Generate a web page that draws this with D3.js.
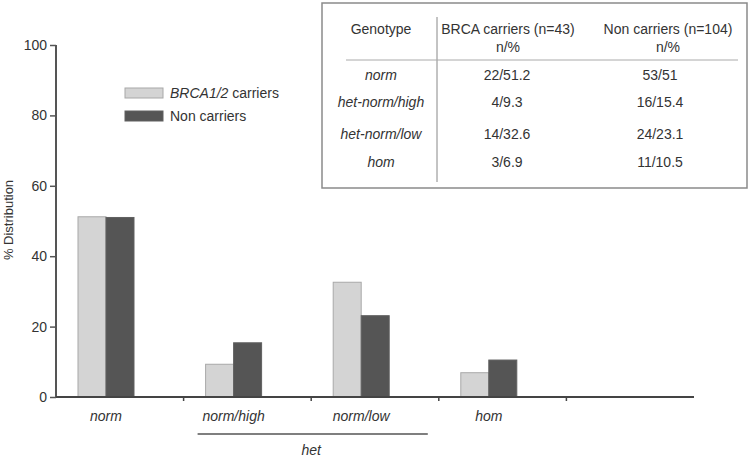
<!DOCTYPE html>
<html>
<head>
<meta charset="utf-8">
<script src="https://cdn.jsdelivr.net/npm/d3@7"></script>
<style>
  body { margin: 0; background: #fff; }
  svg text { font-family: "Liberation Sans", Arial, sans-serif; fill: #333; }
</style>
</head>
<body>
<div id="chart"></div>
<script>
// chart data
var categories = ["norm", "norm/high", "norm/low", "hom", ""];
var seriesNames = ["BRCA1/2 carriers", "Non carriers"];
var brcaValues = [51.2, 9.3, 32.6, 6.9];
var nonValues = [51, 15.4, 23.1, 10.5];
var yTicks = [0, 20, 40, 60, 80, 100];

// inset table
var tableHeaders = ["Genotype", "BRCA carriers (n=43)", "Non carriers (n=104)"];
var genotypes = ["norm", "het-norm/high", "het-norm/low", "hom"];
var brcaCells = ["22/51.2", "4/9.3", "14/32.6", "3/6.9"];
var nonCells = ["53/51", "16/15.4", "24/23.1", "11/10.5"];

var width = 750, height = 459;

var svg = d3.select("#chart").append("svg")
    .attr("width", width)
    .attr("height", height);

var x = d3.scaleBand()
    .domain(categories)
    .range([56, 694]);

var y = d3.scaleLinear()
    .domain([0, 100])
    .range([397, 45]);

// two bars inside each category slot
var x1 = d3.scaleBand()
    .domain([0, 1])
    .range([22, 78]);

var colors = ["#d4d4d4", "#555555"];
var strokes = ["#a8a8a8", "#606060"];

// y axis
var yAxis = svg.append("g")
    .attr("transform", "translate(56,0)")
    .call(d3.axisLeft(y).tickValues(yTicks).tickSize(6).tickPadding(3));
yAxis.selectAll("text").style("font-size", "14px").attr("fill", "#333");
yAxis.selectAll("line").attr("stroke", "#555").attr("stroke-width", 1.5);
yAxis.select(".domain").attr("stroke", "#555").attr("stroke-width", 2).attr("d", "M0,45V397");

svg.append("text")
    .attr("transform", "translate(13,220) rotate(-90)")
    .attr("text-anchor", "middle")
    .style("font-size", "13px")
    .text("% Distribution");

// bars
var rows = categories.slice(0, 4).map(function (c, i) {
    return { cat: c, vals: [brcaValues[i], nonValues[i]] };
});

var groups = svg.selectAll(".grp")
    .data(rows)
    .enter().append("g")
    .attr("class", "grp")
    .attr("transform", function (d) { return "translate(" + x(d.cat) + ",0)"; });

groups.selectAll("rect")
    .data(function (d) { return d.vals; })
    .enter().append("rect")
    .attr("x", function (d, i) { return x1(i); })
    .attr("width", x1.bandwidth())
    .attr("y", function (d) { return y(d); })
    .attr("height", function (d) { return y(0) - y(d); })
    .attr("fill", function (d, i) { return colors[i]; })
    .attr("stroke", function (d, i) { return strokes[i]; })
    .attr("stroke-width", 1);

// x axis: ticks at slot boundaries
var xAxis = svg.append("g").attr("transform", "translate(0,397)");
xAxis.append("line")
    .attr("x1", 56).attr("x2", 694)
    .attr("stroke", "#444").attr("stroke-width", 2);
xAxis.selectAll(".tk")
    .data(categories.slice(1))
    .enter().append("line")
    .attr("x1", function (d) { return x(d); })
    .attr("x2", function (d) { return x(d); })
    .attr("y1", 0).attr("y2", 4)
    .attr("stroke", "#444").attr("stroke-width", 1.5);

// category labels, centred under the bar pair
xAxis.selectAll(".lbl")
    .data(categories.slice(0, 4))
    .enter().append("text")
    .attr("x", function (d) { return x(d) + 50; })
    .attr("y", 24)
    .attr("text-anchor", "middle")
    .style("font-size", "14px")
    .style("font-style", "italic")
    .text(function (d) { return d; });

// "het" bracket under norm/high and norm/low
svg.append("line")
    .attr("x1", x("norm/high") + 14).attr("x2", x("hom") - 11)
    .attr("y1", 434).attr("y2", 434)
    .attr("stroke", "#555").attr("stroke-width", 1.5);
svg.append("text")
    .attr("x", x("norm/low"))
    .attr("y", 455)
    .attr("text-anchor", "middle")
    .style("font-size", "14px")
    .style("font-style", "italic")
    .text("het");

// legend
var legend = svg.selectAll(".leg")
    .data(seriesNames)
    .enter().append("g")
    .attr("class", "leg")
    .attr("transform", function (d, i) { return "translate(125," + (88 + i * 23) + ")"; });
legend.append("rect")
    .attr("width", 38).attr("height", 10)
    .attr("fill", function (d, i) { return colors[i]; })
    .attr("stroke", function (d, i) { return strokes[i]; });
legend.append("text")
    .attr("x", 45).attr("y", 10)
    .style("font-size", "14px")
    .each(function (d, i) {
        var t = d3.select(this);
        if (i === 0) {
            t.append("tspan").style("font-style", "italic").text("BRCA1/2");
            t.append("tspan").text(" carriers");
        } else {
            t.text(d);
        }
    });

// inset table
var tbl = svg.append("g");
tbl.append("rect")
    .attr("x", 322).attr("y", 3)
    .attr("width", 425).attr("height", 185)
    .attr("fill", "#fff")
    .attr("stroke", "#8a8a8a").attr("stroke-width", 1.5);
tbl.append("line")
    .attr("x1", 437).attr("x2", 437).attr("y1", 17).attr("y2", 182)
    .attr("stroke", "#888").attr("stroke-width", 1);
tbl.append("line")
    .attr("x1", 346).attr("x2", 738).attr("y1", 60).attr("y2", 60)
    .attr("stroke", "#aaa").attr("stroke-width", 1);

var headX = [381, 508, 668];
tbl.selectAll(".hd")
    .data(tableHeaders)
    .enter().append("text")
    .attr("x", function (d, i) { return headX[i]; })
    .attr("y", 34)
    .attr("text-anchor", "middle")
    .style("font-size", "14px")
    .text(function (d) { return d; });
tbl.selectAll(".unit")
    .data([1, 2])
    .enter().append("text")
    .attr("x", function (d) { return headX[d]; })
    .attr("y", 52)
    .attr("text-anchor", "middle")
    .style("font-size", "14px")
    .text("n/%");

var rowY = [80, 107, 139, 167];
var cellX = [381, 507, 660];
genotypes.forEach(function (g, i) {
    var cells = [g, brcaCells[i], nonCells[i]];
    cells.forEach(function (c, j) {
        tbl.append("text")
            .attr("x", cellX[j])
            .attr("y", rowY[i])
            .attr("text-anchor", "middle")
            .style("font-size", "14px")
            .style("font-style", j === 0 ? "italic" : "normal")
            .text(c);
    });
});
</script>
</body>
</html>
